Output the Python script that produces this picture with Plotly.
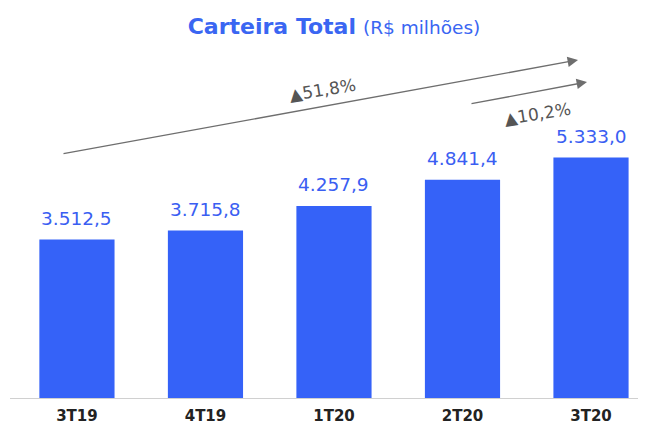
import plotly.graph_objects as go

# data
quarters = ["3T19", "4T19", "1T20", "2T20", "3T20"]
carteira = [3512.5, 3715.8, 4257.9, 4841.4, 5333.0]
value_labels = ["3.512,5", "3.715,8", "4.257,9", "4.841,4", "5.333,0"]
growth_labels = ["▲51,8%", "▲10,2%"]

BLUE = "#3562f8"
GREY = "#6e6e6e"
FONT = "DejaVu Sans"

# page has an 8px body margin, so the figure is a bit smaller and shifted
OFF = 8
W, H = 646 - OFF, 434 - OFF
M_L, M_R, M_T, M_B = 2, 0, 0, 36
PW, PH = W - M_L - M_R, H - M_T - M_B


def px_to_paper(px, py):
    return (px - OFF - M_L) / PW, (H - M_B - (py - OFF)) / PH


fig = go.Figure()
fig.add_trace(go.Bar(
    x=quarters,
    y=carteira,
    width=0.585,
    marker=dict(color=BLUE, line=dict(width=0)),
    hoverinfo="skip",
))

# value labels above bars
for q, v, lab in zip(quarters, carteira, value_labels):
    fig.add_annotation(
        x=q, y=v, text=lab, showarrow=False,
        yshift=21, font=dict(family=FONT, size=18.5, color="#3a5ef2"),
    )

# growth arrows (tail px, tail py, tip px, tip py)
arrows = [
    (62, 154, 578, 60),
    (470, 104, 587, 82),
]
for tx, ty, hx, hy in arrows:
    xp, yp = px_to_paper(hx, hy)
    fig.add_annotation(
        x=xp, y=yp, xref="paper", yref="paper",
        ax=tx - hx, ay=ty - hy,
        showarrow=True, arrowhead=2, arrowsize=1.6, arrowwidth=1.3,
        arrowcolor=GREY, text="",
    )

for (cx, cy), lab in zip([(322, 90), (537, 114)], growth_labels):
    xp, yp = px_to_paper(cx, cy)
    fig.add_annotation(
        x=xp, y=yp, xref="paper", yref="paper", text=lab,
        xanchor="center", yanchor="middle",
        showarrow=False, textangle=-9,
        font=dict(family=FONT, size=17, color="#555555"),
    )

fig.update_layout(
    width=W, height=H,
    margin=dict(l=M_L, r=M_R, t=M_T, b=M_B),
    paper_bgcolor="white", plot_bgcolor="white",
    showlegend=False,
    title=dict(
        text="<b>Carteira Total</b> <span style='font-size:18.5px'>(R$ milhões)</span>",
        x=(334 - OFF) / W, xanchor="center", y=1 - (26 - OFF) / H, yanchor="middle",
        font=dict(family=FONT, size=22, color="#3a66f2"),
    ),
    xaxis=dict(
        range=[-0.521, 4.428],
        showline=True, linecolor="#d0d0d0", linewidth=1,
        ticks="outside", ticklen=4, tickcolor="white",
        tickfont=dict(family=FONT, size=15, color="#222222", weight="bold"),
        showgrid=False, fixedrange=True,
    ),
    yaxis=dict(
        range=[0, 8647], visible=False, showgrid=False, fixedrange=True,
    ),
)

fig.write_html("out.html")
